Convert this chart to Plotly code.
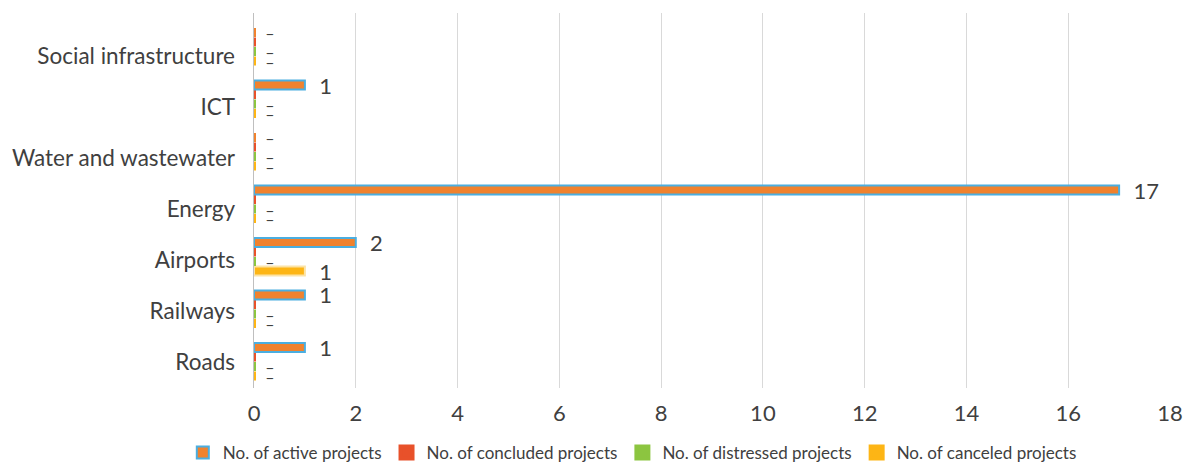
import plotly.graph_objects as go

# Sectors, bottom to top
categories = ["Roads", "Railways", "Airports", "Energy",
              "Water and wastewater", "ICT", "Social infrastructure"]

active_projects = [1, 1, 2, 17, 0, 1, 0]
concluded_projects = [0, 0, 0, 0, 0, 0, 0]
distressed_projects = [0, 0, 0, 0, 0, 0, 0]
canceled_projects = [0, 0, 1, 0, 0, 0, 0]

x_ticks = [0, 2, 4, 6, 8, 10, 12, 14, 16, 18]

# name, values, fill, edge, show data labels
series = [
    ("No. of active projects", active_projects, "#F0822E", "#4BAEE0", True),
    ("No. of concluded projects", concluded_projects, "#E8512A", "#F6A531", False),
    ("No. of distressed projects", distressed_projects, "#8CC540", "#EE6B3A", True),
    ("No. of canceled projects", canceled_projects, "#FDB515", "#FCE3A6", True),
]

TEXT = "#404040"
FONT = "Lato"
NBSP = "\u00a0"


def label(v):
    return NBSP * 2 + ("–" if v == 0 else str(v))


fig = go.Figure()

# Added in reverse so the first series sits at the top of each group
for name, values, fill, edge, labelled in reversed(series):
    # zero-valued bars are drawn as a short stub at the axis
    line_colors = [edge if v else fill for v in values]
    line_widths = [2 if v else 4 for v in values]
    fig.add_trace(go.Bar(
        name=name,
        y=categories,
        x=values,
        orientation="h",
        marker=dict(color=fill, line=dict(color=line_colors, width=line_widths)),
        text=[label(v) for v in values] if labelled else None,
        textposition="outside" if labelled else "none",
        constraintext="none",
        cliponaxis=False,
        textfont=dict(family=FONT, color=TEXT,
                      size=[22 if v else 16 for v in values]),
        hoverinfo="x+y+name",
    ))

# Invisible trace anchoring the category label axis
fig.add_trace(go.Scatter(x=[None], y=[None], yaxis="y2", showlegend=False,
                         hoverinfo="skip"))

fig.update_layout(
    width=1183,
    height=463,
    margin=dict(l=254, r=13, t=13, b=75, autoexpand=False),
    paper_bgcolor="white",
    plot_bgcolor="white",
    barmode="group",
    bargap=0.276,
    bargroupgap=0.05,
    font=dict(family=FONT, color=TEXT),
    xaxis=dict(
        range=[0, 18],
        tickvals=x_ticks,
        showgrid=True,
        gridcolor="#D9D9D9",
        gridwidth=1,
        zeroline=False,
        showline=False,
        ticks="",
        tickfont=dict(family=FONT, size=22, color=TEXT),
        ticklabelstandoff=10,
        fixedrange=True,
    ),
    yaxis=dict(
        type="category",
        categoryorder="array",
        categoryarray=categories,
        range=[-0.5, 6.643],
        showticklabels=False,
        showgrid=False,
        showline=True,
        linecolor="#BFBFBF",
        linewidth=1,
        ticks="",
        fixedrange=True,
    ),
    yaxis2=dict(
        overlaying="y",
        side="left",
        range=[-0.516, 6.844],
        tickmode="array",
        tickvals=list(range(len(categories))),
        ticktext=categories,
        showgrid=False,
        zeroline=False,
        showline=False,
        ticks="",
        tickfont=dict(family=FONT, size=22.5, color=TEXT),
        ticklabelstandoff=18,
        fixedrange=True,
    ),
    legend=dict(
        orientation="h",
        traceorder="reversed",
        x=0.413,
        xanchor="center",
        y=-0.173,
        yanchor="middle",
        font=dict(family=FONT, size=17, color=TEXT),
        itemwidth=30,
        bgcolor="rgba(0,0,0,0)",
    ),
    showlegend=True,
)

fig.write_html("out.html")
